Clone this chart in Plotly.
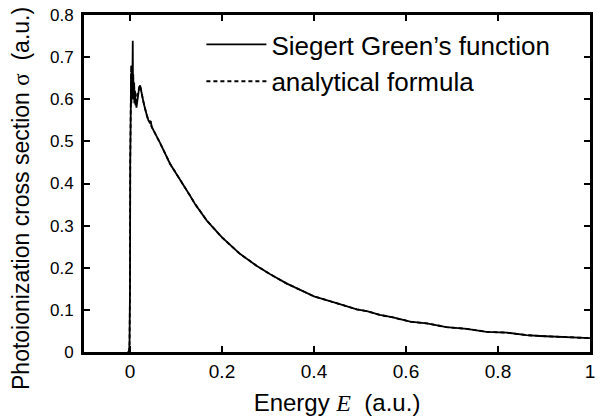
import plotly.graph_objects as go

# ---- data ----
# near-threshold part of the Siegert Green's function result
E_solid_near = [-0.004, -0.002, -0.001, 0.0, 0.0005, 0.001, 0.0015, 0.002, 0.0025, 0.003,
                0.0035, 0.004, 0.0045, 0.005, 0.0055, 0.006, 0.0065, 0.007, 0.008, 0.009,
                0.010, 0.011, 0.012, 0.013, 0.014, 0.016, 0.018, 0.020, 0.022, 0.025]
sigma_solid_near = [0.0, 0.003, 0.02, 0.15, 0.45, 0.59, 0.64, 0.58, 0.66, 0.59,
                    0.67, 0.60, 0.68, 0.61, 0.70, 0.739, 0.62, 0.66, 0.60, 0.64,
                    0.59, 0.62, 0.585, 0.60, 0.58, 0.60, 0.615, 0.628, 0.633, 0.62]

# near-threshold part of the analytical formula
E_dash_near = [-0.004, -0.002, -0.001, 0.0, 0.0005, 0.001, 0.0015, 0.002, 0.0025, 0.003,
               0.0035, 0.004, 0.005, 0.006, 0.007, 0.008, 0.009, 0.010, 0.012, 0.014,
               0.016, 0.018, 0.020, 0.022, 0.025]
sigma_dash_near = [0.0, 0.003, 0.02, 0.15, 0.45, 0.60, 0.67, 0.59, 0.68, 0.60,
                   0.66, 0.61, 0.655, 0.60, 0.645, 0.60, 0.63, 0.59, 0.615, 0.595,
                   0.61, 0.62, 0.628, 0.633, 0.62]

# common tail (both curves coincide)
E_tail = [0.028, 0.031, 0.034, 0.037, 0.040, 0.043, 0.045, 0.047, 0.054, 0.065,
          0.087, 0.109, 0.116, 0.13, 0.141, 0.167, 0.2, 0.239, 0.275, 0.304,
          0.34, 0.377, 0.4, 0.449, 0.493, 0.515, 0.543, 0.572, 0.609, 0.645,
          0.688, 0.732, 0.775, 0.819, 0.862, 0.891, 0.95, 1.0]
sigma_tail = [0.60, 0.585, 0.57, 0.56, 0.55, 0.545, 0.548, 0.535, 0.52, 0.497,
              0.447, 0.41, 0.398, 0.372, 0.352, 0.312, 0.272, 0.233, 0.205, 0.185,
              0.163, 0.144, 0.132, 0.116, 0.101, 0.097, 0.088, 0.082, 0.072, 0.068,
              0.059, 0.055, 0.048, 0.046, 0.040, 0.038, 0.035, 0.033]

series_names = ["Siegert Green\u2019s function", "analytical formula"]
x_tickvals = [0, 0.2, 0.4, 0.6, 0.8, 1]
x_ticktext = ["0", "0.2", "0.4", "0.6", "0.8", "1"]
y_tickvals = [0, 0.1, 0.2, 0.3, 0.4, 0.5, 0.6, 0.7, 0.8]
y_ticktext = ["0", "0.1", "0.2", "0.3", "0.4", "0.5", "0.6", "0.7", "0.8"]

FONT = "Liberation Sans, Arial, Helvetica, sans-serif"
MATH = "font-family:'Liberation Serif', 'Times New Roman', serif"

fig = go.Figure()
fig.add_trace(go.Scatter(
    x=E_dash_near + E_tail, y=sigma_dash_near + sigma_tail,
    mode="lines", name=series_names[1], legendrank=2,
    line=dict(color="black", width=1.8, dash="4px,3px"),
))
fig.add_trace(go.Scatter(
    x=E_solid_near + E_tail, y=sigma_solid_near + sigma_tail,
    mode="lines", name=series_names[0], legendrank=1,
    line=dict(color="black", width=1.8),
))

axis_common = dict(
    showline=True, linecolor="black", linewidth=3, mirror="ticks",
    ticks="inside", ticklen=6, tickwidth=1.5, tickcolor="black",
    showgrid=False, zeroline=False, automargin=False,
)

fig.update_layout(
    width=605, height=418,
    margin=dict(l=84, r=15, t=15, b=66),
    paper_bgcolor="white", plot_bgcolor="white",
    font=dict(family=FONT, color="black"),
    showlegend=True,
    legend=dict(
        x=0.232, y=0.982, xanchor="left", yanchor="top",
        bgcolor="rgba(0,0,0,0)", borderwidth=0,
        font=dict(size=26, family=FONT),
        itemwidth=60, traceorder="normal",
    ),
    xaxis=dict(
        range=[-0.1, 1], tickvals=x_tickvals, ticktext=x_ticktext,
        tickfont=dict(size=19, family=FONT),
        title=dict(text=f"Energy <span style=\"{MATH}\"><i>E</i></span>\u00a0 (a.u.)",
                   font=dict(size=24, family=FONT), standoff=14),
        **axis_common,
    ),
    yaxis=dict(
        range=[0, 0.8], tickvals=y_tickvals, ticktext=y_ticktext,
        tickfont=dict(size=17, family=FONT), ticklabelstandoff=4,
        **axis_common,
    ),
    annotations=[dict(
        text=f"Photoionization cross section <span style=\"{MATH}\">\u03c3</span>\u00a0 (a.u.)",
        textangle=-90, xref="paper", yref="paper",
        x=-0.1245, y=0.454, xanchor="center", yanchor="middle",
        showarrow=False, font=dict(size=23, family=FONT),
    )],
)

fig.write_html("out.html")
